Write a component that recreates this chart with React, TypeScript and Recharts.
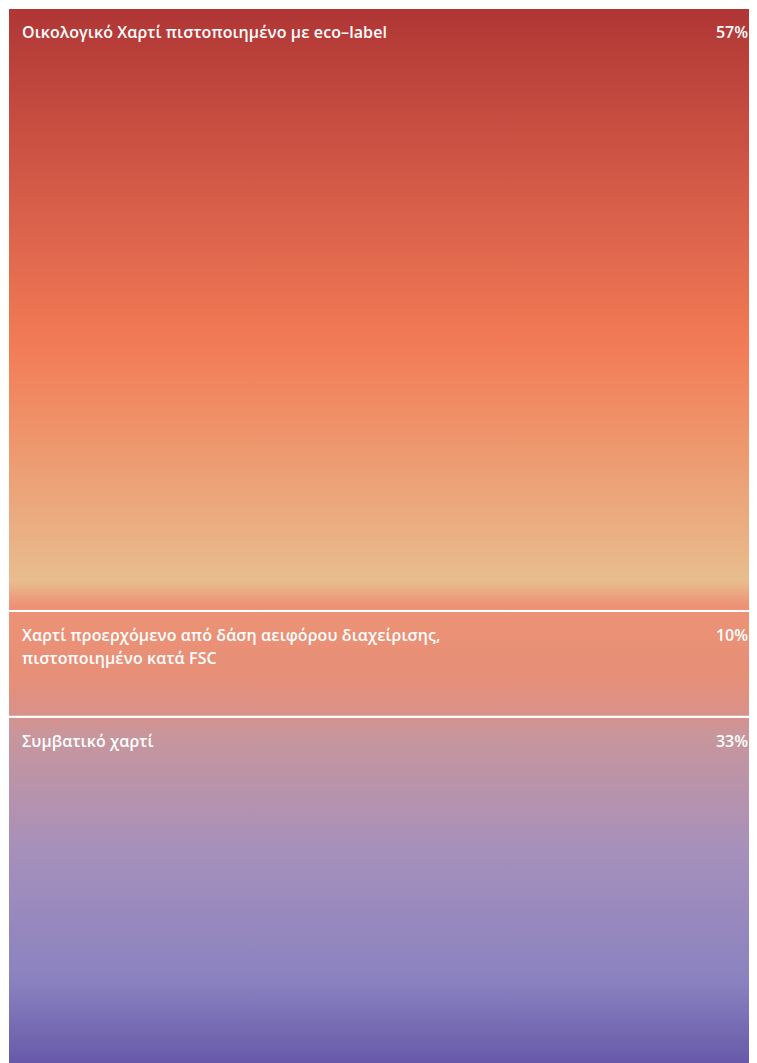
import { BarChart, Bar, XAxis, YAxis, LabelList } from "recharts";

const categories = [
  "Οικολογικό Χαρτί πιστοποιημένο με eco–label",
  "Χαρτί προερχόμενο από δάση αειφόρου διαχείρισης,\nπιστοποιημένο κατά FSC",
  "Συμβατικό χαρτί",
];
const shares = [57, 10, 33];
const seriesKeys = ["eco", "fsc", "conv"];

const row: Record<string, number | string> = { name: "paper" };
seriesKeys.forEach((k, i) => {
  row[k] = shares[i];
});
const data = [row];

const W = 756;
const H = 1058;

const FONT = "'Open Sans', 'Noto Sans', sans-serif";

const makeLabel = (title: string) => (props: any) => {
  const { x, y, width, value } = props;
  const lines = title.split("\n");
  return (
    <g>
      {lines.map((line, i) => (
        <text
          key={i}
          x={x + 14}
          y={y + 30 + i * 23}
          fill="#fff"
          fontSize={16}
          fontWeight={600}
          letterSpacing={0.1}
          fontFamily={FONT}
        >
          {line}
        </text>
      ))}
      <text
        x={x + width - 16}
        y={y + 30}
        fill="#fff"
        fontSize={16}
        fontWeight={600}
        fontFamily={FONT}
        textAnchor="end"
      >
        {value}%
      </text>
    </g>
  );
};

export default function App() {
  // stacked from the bottom, so draw the last category first
  const order = [2, 1, 0];
  return (
    <div style={{ width: W, height: H }}>
      <BarChart
        width={W}
        height={H}
        data={data}
        margin={{ top: 0, right: 0, bottom: 0, left: 0 }}
        barCategoryGap={0}
      >
        <defs>
          <linearGradient id="paperGrad" gradientUnits="userSpaceOnUse" x1="0" y1="0" x2="0" y2={H}>
            <stop offset="0" stopColor="#b03636" />
            <stop offset="0.314" stopColor="#f27a55" />
            <stop offset="0.541" stopColor="#e8bd8e" />
            <stop offset="0.565" stopColor="#ed9275" />
            <stop offset="0.635" stopColor="#e68f78" />
            <stop offset="0.668" stopColor="#d8928a" />
            <stop offset="0.687" stopColor="#c8969c" />
            <stop offset="0.796" stopColor="#a690bb" />
            <stop offset="0.919" stopColor="#8a82c0" />
            <stop offset="1" stopColor="#6658a8" />
          </linearGradient>
        </defs>
        <XAxis dataKey="name" hide />
        <YAxis hide domain={[0, 100]} />
        {order.map((i) => (
          <Bar
            key={seriesKeys[i]}
            dataKey={seriesKeys[i]}
            stackId="a"
            fill="url(#paperGrad)"
            stroke="#fff"
            strokeWidth={2}
            isAnimationActive={false}
          >
            <LabelList dataKey={seriesKeys[i]} content={makeLabel(categories[i])} />
          </Bar>
        ))}
      </BarChart>
    </div>
  );
}
